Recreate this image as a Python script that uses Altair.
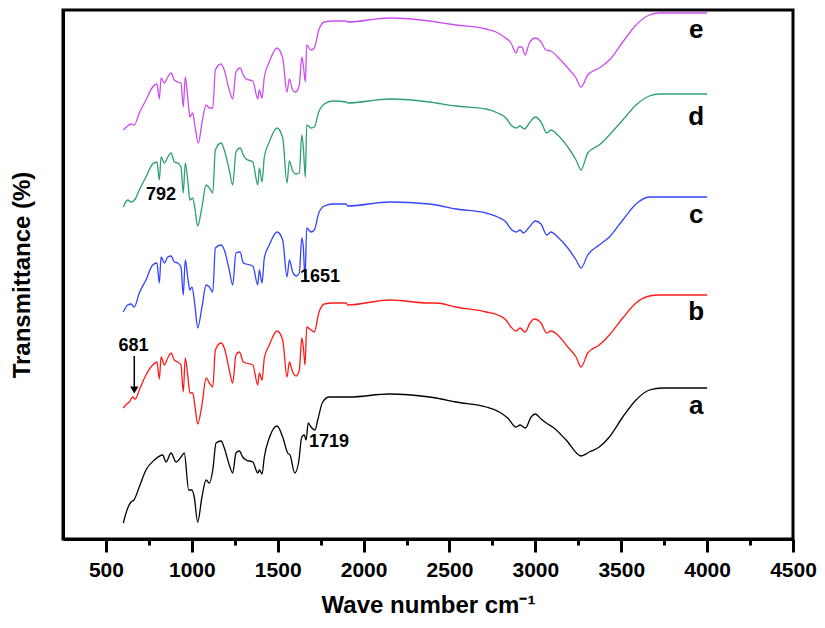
import altair as alt
import pandas as pd

# FTIR spectra: (wave number cm-1, transmittance in arbitrary offset units)
curve_a = [(601,15),(627,30),(646,36),(663,38),(694,51),(733,68),(782,78),(830,83),(850,76),(879,85),
           (908,76),(937,81),(956,85),(982,48),(1001,48),(1014,41),(1034,16),(1059,41),(1083,58),(1102,55),
           (1122,68),(1141,95),(1170,97),(1189,90),(1218,73),(1238,65),(1257,85),(1277,87),(1296,81),(1316,78),
           (1355,76),(1384,65),(1393,68),(1409,64),(1422,81),(1451,100),(1496,112),(1529,101),(1558,85),(1572,83),
           (1599,65),(1622,76),(1640,101),(1655,103),(1665,98),(1678,115),(1694,111),(1717,108),(1733,118),(1762,136),
           (1800,141),(1917,141),(2150,144),(2383,141),(2422,140),(2538,136),(2713,131),(2790,126),(2839,120),(2888,111),
           (2911,113),(2942,110),(2975,121),(3000,124),(3033,119),(3072,114),(3101,111),(3179,98),(3266,82),(3314,86),
           (3372,91),(3431,101),(3509,121),(3586,138),(3664,148),(3742,150),(4000,150)]

curve_b = [(601,130),(621,134),(636,136),(656,141),(671,139),(694,148),(733,163),(772,173),(797,176),(811,159),
           (821,181),(840,173),(860,180),(879,185),(898,178),(918,176),(937,173),(950,146),(962,180),(976,163),
           (989,145),(1005,145),(1019,131),(1034,114),(1059,133),(1083,160),(1102,155),(1122,151),(1137,188),(1170,195),
           (1189,190),(1218,168),(1238,155),(1257,183),(1277,186),(1300,176),(1316,175),(1355,173),(1384,153),(1393,165),
           (1409,158),(1422,180),(1451,193),(1496,207),(1529,198),(1554,161),(1568,176),(1587,166),(1607,162),(1626,168),
           (1640,200),(1649,191),(1659,173),(1669,211),(1694,208),(1713,206),(1739,225),(1771,234),(1820,235),(1898,235),
           (1908,233),(2150,238),(2383,235),(2422,235),(2538,231),(2713,226),(2781,223),(2829,218),(2858,211),(2888,207),
           (2911,210),(2940,206),(2969,215),(2994,219),(3033,215),(3066,205),(3091,207),(3130,203),(3189,191),(3237,181),
           (3266,171),(3305,185),(3372,193),(3431,203),(3509,220),(3586,235),(3664,242),(3722,243),(4000,243)]

curve_c = [(601,226),(627,233),(646,234),(665,231),(694,245),(733,258),(772,273),(797,275),(811,255),(821,281),
           (840,275),(860,281),(879,282),(898,276),(918,275),(937,271),(950,243),(962,278),(976,261),(989,248),
           (1001,251),(1019,231),(1034,210),(1059,231),(1083,253),(1102,251),(1122,246),(1137,290),(1170,293),(1189,288),
           (1218,268),(1238,253),(1257,285),(1281,286),(1300,275),(1316,274),(1355,272),(1384,253),(1393,268),(1409,255),
           (1422,280),(1451,293),(1496,306),(1529,298),(1554,261),(1568,278),(1587,266),(1607,262),(1626,265),(1640,300),
           (1649,291),(1659,260),(1669,310),(1694,306),(1713,308),(1739,325),(1771,332),(1820,334),(1898,334),(1908,332),
           (2150,336),(2383,334),(2422,333),(2538,329),(2713,325),(2781,321),(2829,316),(2858,309),(2888,306),(2911,308),
           (2930,305),(2965,311),(3000,317),(3033,314),(3066,303),(3091,306),(3130,301),(3189,290),(3237,278),(3266,270),
           (3305,283),(3372,293),(3431,301),(3509,318),(3586,334),(3664,341),(3722,341),(4000,341)]

curve_d = [(601,331),(627,338),(646,336),(671,339),(694,348),(733,361),(772,374),(797,376),(811,358),(821,381),
           (840,375),(860,381),(879,385),(898,376),(918,375),(937,371),(950,345),(962,375),(976,358),(989,338),
           (1005,340),(1019,328),(1034,312),(1059,331),(1083,353),(1102,350),(1122,345),(1137,388),(1170,395),(1189,388),
           (1218,368),(1238,353),(1257,386),(1281,390),(1300,383),(1316,379),(1355,376),(1384,353),(1393,370),(1409,356),
           (1422,381),(1451,396),(1496,410),(1529,400),(1554,355),(1568,377),(1587,367),(1607,364),(1626,365),(1640,403),
           (1649,391),(1661,361),(1669,413),(1694,410),(1713,411),(1739,426),(1771,434),(1820,437),(1898,436),(1908,435),
           (2150,439),(2383,436),(2422,435),(2538,432),(2713,429),(2781,425),(2829,420),(2858,413),(2888,410),(2911,412),
           (2936,409),(2965,415),(3000,421),(3033,416),(3066,405),(3091,408),(3130,403),(3189,391),(3237,378),(3266,368),
           (3305,385),(3372,393),(3431,403),(3509,418),(3586,433),(3664,442),(3722,444),(4000,444)]

curve_e = [(601,408),(627,412),(646,414),(665,413),(694,425),(733,438),(772,451),(797,454),(811,439),(821,460),
           (840,455),(860,461),(879,465),(898,458),(918,456),(937,455),(950,431),(962,461),(976,441),(989,421),
           (1005,425),(1019,411),(1038,395),(1059,415),(1083,433),(1102,430),(1122,430),(1137,468),(1170,474),(1189,468),
           (1218,448),(1238,439),(1257,466),(1281,470),(1300,463),(1316,459),(1355,457),(1384,439),(1393,448),(1409,440),
           (1422,461),(1451,476),(1496,490),(1529,480),(1554,446),(1568,459),(1587,448),(1603,446),(1626,453),(1640,481),
           (1649,473),(1661,456),(1669,493),(1694,488),(1713,490),(1739,508),(1771,516),(1820,517),(1898,517),(1908,516),
           (2150,520),(2383,517),(2422,516),(2538,513),(2713,509),(2771,506),(2819,501),(2858,495),(2888,485),(2903,491),
           (2921,491),(2940,483),(2965,495),(3000,500),(3033,496),(3062,488),(3091,487),(3130,481),(3189,470),(3237,460),
           (3266,451),(3305,463),(3372,470),(3431,478),(3509,496),(3586,513),(3664,523),(3722,525),(4000,525)]

series_names = ["a", "b", "c", "d", "e"]
series_colors = ["#000000", "#ff1a1a", "#3344ff", "#2f9e78", "#cc4cf2"]

# curve letters
letter_wn = [3936, 3936, 3936, 3936, 3936]
letter_t = [132, 226, 323, 421, 508]

# peak annotations
peak_labels = ["792", "1651", "1719"]
peak_wn = [733, 1630, 1682]
peak_t = [343, 261, 96]

# label and arrow for 681
arrow_label = ["681"]
arrow_label_wn = [660]
arrow_label_t = [192]
arrow_wn = [665]
arrow_t_start = [182]
arrow_t_end = [150]
arrow_head_t = [148]

FONT = "Liberation Sans"

rows = []
for name, pts in zip(series_names, [curve_a, curve_b, curve_c, curve_d, curve_e]):
    for w, t in pts:
        rows.append({"series": name, "wn": w, "t": t})
df = pd.DataFrame(rows)

x_scale = alt.Scale(domain=[250, 4500], nice=False, zero=False)
y_scale = alt.Scale(domain=[-1, 528], nice=False, zero=False)

x_axis = alt.Axis(
    title="Wave number cm\u207b\u00b9",
    values=list(range(500, 4501, 250)),
    labelExpr="datum.value % 500 === 0 ? datum.label : ''",
    format="d",
    tickSize={"condition": {"test": "datum.value % 500 === 0", "value": 13}, "value": 6},
    tickWidth=3,
    tickColor="black",
    domainWidth=3,
    domainColor="black",
    labelFont=FONT,
    labelFontWeight="bold",
    labelFontSize=21,
    labelColor="black",
    labelPadding=7,
    labelFlush=False,
    labelOverlap=False,
    labelBound=False,
    titleFont=FONT,
    titleFontWeight="bold",
    titleFontSize=24,
    titleColor="black",
    titlePadding=13,
    grid=False,
)

y_axis = alt.Axis(
    title="Transmittance (%)",
    ticks=False,
    labels=False,
    domainWidth=3,
    domainColor="black",
    titleFont=FONT,
    titleFontWeight="bold",
    titleFontSize=24,
    titleColor="black",
    titlePadding=29,
    grid=False,
)

lines = alt.Chart(df).mark_line(strokeWidth=1.3, interpolate="monotone").encode(
    x=alt.X("wn:Q", scale=x_scale, axis=x_axis),
    y=alt.Y("t:Q", scale=y_scale, axis=y_axis),
    color=alt.Color("series:N", scale=alt.Scale(domain=series_names, range=series_colors), legend=None),
    detail="series:N",
)

letters_df = pd.DataFrame({"label": series_names, "wn": letter_wn, "t": letter_t})
letters = alt.Chart(letters_df).mark_text(
    font=FONT, fontWeight="bold", fontSize=26, color="black", align="center", baseline="middle"
).encode(x="wn:Q", y="t:Q", text="label:N")

peaks_df = pd.DataFrame({"label": peak_labels, "wn": peak_wn, "t": peak_t})
peaks = alt.Chart(peaks_df).mark_text(
    font=FONT, fontWeight="bold", fontSize=18, color="black", align="left", baseline="middle"
).encode(x="wn:Q", y="t:Q", text="label:N")

arrow_label_df = pd.DataFrame({"label": arrow_label, "wn": arrow_label_wn, "t": arrow_label_t})
arrow_text = alt.Chart(arrow_label_df).mark_text(
    font=FONT, fontWeight="bold", fontSize=18, color="black", align="center", baseline="middle"
).encode(x="wn:Q", y="t:Q", text="label:N")

arrow_df = pd.DataFrame({"wn": arrow_wn, "t0": arrow_t_start, "t1": arrow_t_end, "th": arrow_head_t})
arrow_line = alt.Chart(arrow_df).mark_rule(color="black", strokeWidth=1.5).encode(
    x="wn:Q", y="t0:Q", y2="t1:Q"
)
arrow_head = alt.Chart(arrow_df).mark_point(
    shape="triangle-down", filled=True, color="black", size=70, opacity=1
).encode(x="wn:Q", y="th:Q")

chart = alt.layer(lines, letters, peaks, arrow_text, arrow_line, arrow_head).properties(
    width=730,
    height=529,
    autosize=alt.AutoSizeParams(type="none"),
    padding={"left": 55, "top": 2, "right": 24, "bottom": 81},
).configure_view(
    stroke="black", strokeWidth=3
)

chart.save("out.html", embed_options={"renderer": "svg", "actions": False})
